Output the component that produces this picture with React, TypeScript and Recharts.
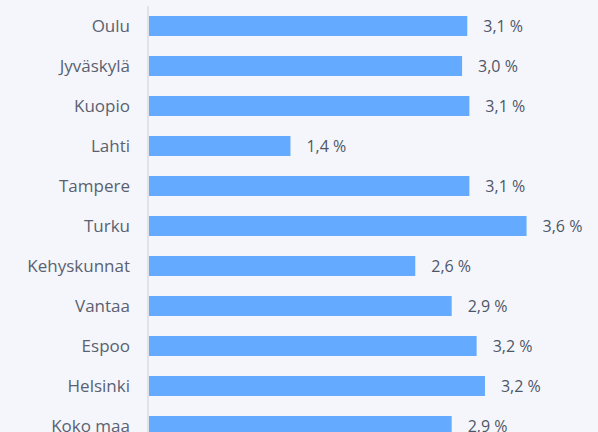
import { Bar, BarChart, LabelList, XAxis, YAxis } from "recharts";

const cities = [
  "Oulu",
  "Jyväskylä",
  "Kuopio",
  "Lahti",
  "Tampere",
  "Turku",
  "Kehyskunnat",
  "Vantaa",
  "Espoo",
  "Helsinki",
  "Koko maa",
];

const growth = [3.07, 3.02, 3.09, 1.37, 3.09, 3.64, 2.57, 2.92, 3.16, 3.24, 2.92];

const data = cities.map((city, i) => ({ city, value: growth[i] }));

const fmt = (v: number) => `${v.toFixed(1).replace(".", ",")} %`;

export default function App() {
  return (
    <div
      style={{
        position: "absolute",
        left: 0,
        top: 0,
        width: 598,
        height: 432,
        overflow: "hidden",
        background: "#f5f6fb",
        fontFamily: "'Open Sans', sans-serif",
      }}
    >
      <BarChart
        width={598}
        height={446}
        data={data}
        layout="vertical"
        margin={{ top: 6, right: 34, bottom: 0, left: 0 }}
      >
        <XAxis type="number" domain={[0, 4]} hide />
        <YAxis
          type="category"
          dataKey="city"
          width={148}
          tickLine={false}
          tickSize={0}
          tickMargin={18}
          axisLine={{ stroke: "#e1e3ea", strokeWidth: 2 }}
          tick={{ fill: "#5a6171", fontSize: 17 }}
          interval={0}
        />
        <Bar dataKey="value" fill="#64aaff" barSize={20} isAnimationActive={false}>
          <LabelList
            dataKey="value"
            position="right"
            offset={16}
            formatter={(v: any) => fmt(Number(v))}
            style={{ fill: "#4f5667", fontSize: 16 }}
          />
        </Bar>
      </BarChart>
    </div>
  );
}
